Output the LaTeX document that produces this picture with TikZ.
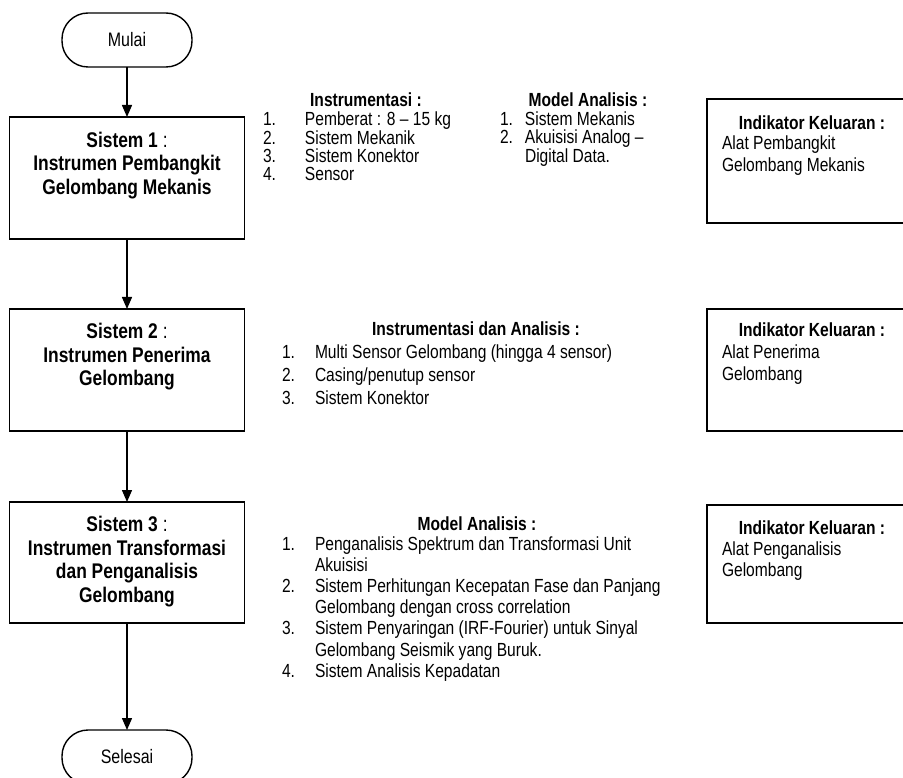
\documentclass[tikz,border=0pt]{standalone}
\usepackage{fontspec}
\setmainfont{Liberation Sans}[FakeStretch=0.82]
\usetikzlibrary{arrows.meta}
\newcommand{\itmA}[2]{\makebox[42pt][l]{#1}#2}
\newcommand{\itmB}[2]{\makebox[25pt][l]{#1}#2}
\newcommand{\itmC}[2]{\makebox[33pt][l]{#1}#2}
\begin{document}
\begin{tikzpicture}[x=1pt,y=-1pt,
  every node/.style={inner sep=0pt, outer sep=0pt},
  term/.style={draw, line width=1.4pt, rounded corners=26pt, minimum width=130pt, minimum height=54pt, font=\fontsize{19.5}{22}\selectfont},
  sysbox/.style={draw, line width=1.5pt, minimum width=235pt},
  systext/.style={align=center, font=\fontsize{21.2}{23.5}\selectfont},
  outbox/.style={draw, line width=1.4pt, minimum width=215pt},
  hd/.style={font=\fontsize{19}{21.5}\selectfont\bfseries},
  lsttight/.style={align=left, font=\fontsize{19}{17.7}\selectfont},
  lst/.style={align=left, font=\fontsize{19}{21.5}\selectfont},
  flow/.style={-{Triangle[length=12pt,width=10pt]}, line width=1.4pt}]
\useasboundingbox (0,0) rectangle (903,778);

% flow column
\node[term] (start) at (127,40) {Mulai};
\node[sysbox, minimum height=122pt] (s1) at (127,178) {};
\node[systext, anchor=base] (s1t) at (127,194.5) {\textbf{Sistem 1} :\\\textbf{Instrumen Pembangkit}\\\textbf{Gelombang Mekanis}};
\node[sysbox, minimum height=122pt] (s2) at (127,370) {};
\node[systext, anchor=base] (s2t) at (127,385.5) {\textbf{Sistem 2} :\\\textbf{Instrumen Penerima}\\\textbf{Gelombang}};
\node[sysbox, minimum height=121pt] (s3) at (127,562.5) {};
\node[systext, anchor=base] (s3t) at (127,602) {\textbf{Sistem 3} :\\\textbf{Instrumen Transformasi}\\\textbf{dan Penganalisis}\\\textbf{Gelombang}};
\node[term] (end) at (127,757) {Selesai};

\draw[flow] (start.south) -- (s1.north);
\draw[flow] (s1.south) -- (s2.north);
\draw[flow] (s2.south) -- (s3.north);
\draw[flow] (s3.south) -- (end.north);

% row 1 lists
\node[hd, anchor=base] (insh) at (366,106.5) {Instrumentasi :};
\node[lsttight, anchor=base west] (insl) at (263,180.1) {\itmA{1.}{Pemberat : 8 – 15 kg}\\\itmA{2.}{Sistem Mekanik}\\\itmA{3.}{Sistem Konektor}\\\itmA{4.}{Sensor}};
\node[hd, anchor=base] (mah) at (588,106.5) {Model Analisis :};
\node[lsttight, anchor=base west] (mal) at (500,162.4) {\itmB{1.}{Sistem Mekanis}\\\itmB{2.}{Akuisisi Analog –}\\\itmB{}{Digital Data.}};

% row 2 list
\node[hd, anchor=base] (iah) at (476,336) {Instrumentasi dan Analisis :};
\node[lst, anchor=base west, font=\fontsize{19}{23}\selectfont] (ial) at (282,404) {\itmC{1.}{Multi Sensor Gelombang (hingga 4 sensor)}\\\itmC{2.}{Casing/penutup sensor}\\\itmC{3.}{Sistem Konektor}};

% row 3 list
\node[hd, anchor=base] (ma3h) at (477,530) {Model Analisis :};
\node[lst, anchor=base west, font=\fontsize{19}{21.2}\selectfont] (ma3l) at (282,677.2) {\itmC{1.}{Penganalisis Spektrum dan Transformasi Unit}\\\itmC{}{Akuisisi}\\\itmC{2.}{Sistem Perhitungan Kecepatan Fase dan Panjang}\\\itmC{}{Gelombang dengan cross correlation}\\\itmC{3.}{Sistem Penyaringan (IRF-Fourier) untuk Sinyal}\\\itmC{}{Gelombang Seismik yang Buruk.}\\\itmC{4.}{Sistem Analisis Kepadatan}};

% output boxes
\node[outbox, minimum height=124pt, anchor=north west] (o1) at (707,99) {};
\node[hd, anchor=base] (o1h) at (812,130) {Indikator Keluaran :};
\node[lst, anchor=base west] (o1b) at (722,171.5) {Alat Pembangkit\\Gelombang Mekanis};
\node[outbox, minimum height=122pt, anchor=north west] (o2) at (707,309) {};
\node[hd, anchor=base] (o2h) at (812,337) {Indikator Keluaran :};
\node[lst, anchor=base west] (o2b) at (722,380.5) {Alat Penerima\\Gelombang};
\node[outbox, minimum height=118pt, anchor=north west] (o3) at (707,505) {};
\node[hd, anchor=base] (o3h) at (812,534) {Indikator Keluaran :};
\node[lst, anchor=base west] (o3b) at (722,576.5) {Alat Penganalisis\\Gelombang};
\end{tikzpicture}
\end{document}
